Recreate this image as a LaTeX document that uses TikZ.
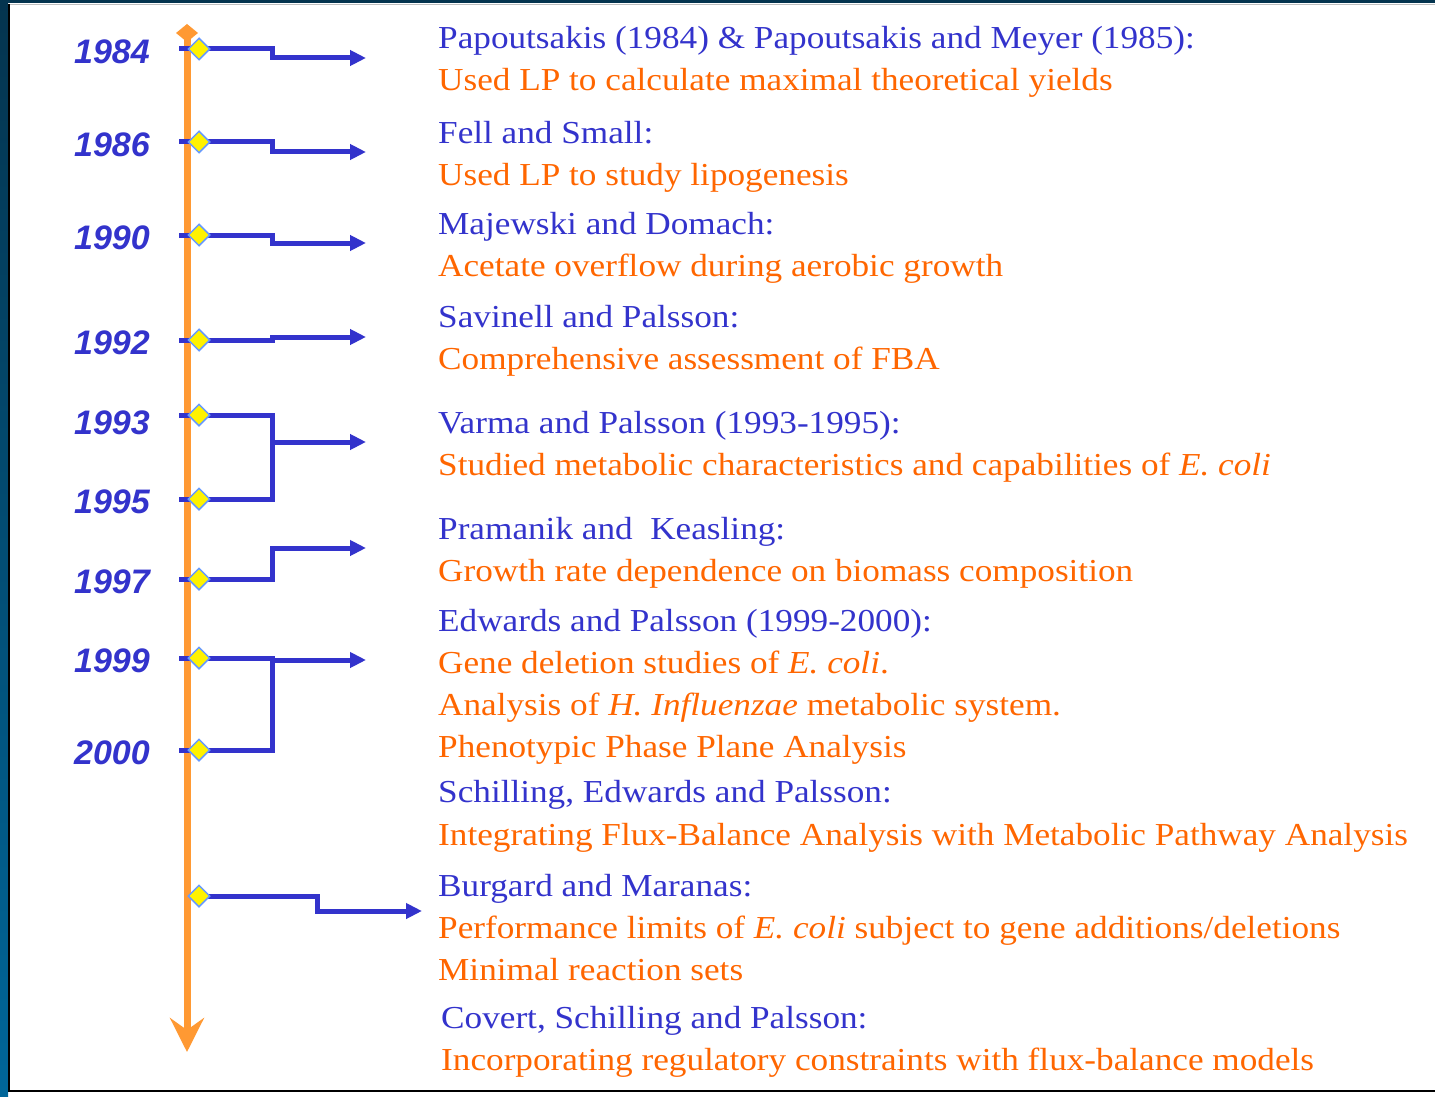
\documentclass[tikz,border=0pt]{standalone}
\usepackage{fontspec}
\setmainfont{Liberation Serif}[FakeStretch=1.1]
\newfontfamily\yearfamily{Liberation Sans}
\usetikzlibrary{arrows.meta,shapes.geometric}

\definecolor{titleblue}{HTML}{3333CC}
\definecolor{noteorange}{HTML}{FF6600}
\definecolor{axisorange}{HTML}{FF9933}
\definecolor{rimblue}{HTML}{6699FF}
\definecolor{framedark}{HTML}{04344F}
\definecolor{framelight}{HTML}{006699}

\def \markSize {22pt}
\def \tipX {366}

\tikzset{
  year/.style={anchor=base east, inner sep=0pt, text=titleblue, font=\yearfamily\bfseries\itshape\fontsize{34}{40}\selectfont},
  who/.style={anchor=base west, inner sep=0pt, text=titleblue, font=\fontsize{32}{38}\selectfont},
  what/.style={anchor=base west, inner sep=0pt, text=noteorange, font=\fontsize{32}{38}\selectfont},
  event/.style={diamond, draw=rimblue, fill=yellow, line width=1.5pt, minimum size=\markSize, inner sep=0pt},
  link/.style={draw=titleblue, line width=5pt},
  linkarrow/.style={link, -{Triangle[length=16pt,width=15pt]}}
}

\begin{document}
\begin{tikzpicture}[x=1pt,y=-1pt]
  \useasboundingbox (0,0) rectangle (1435,1097);

  % frame
  \fill[white] (0,0) rectangle (1435,1097);
  \fill[framedark] (0,0) rectangle (1435,3.5);
  \shade[top color=framedark, bottom color=framelight] (0,0) rectangle (8,1097);
  \draw[black!25, line width=1pt] (9,4.5) -- (1435,4.5);
  \draw[black, line width=2pt] (9,4) -- (9,1091) -- (1435,1091);

  % time axis
  \draw[axisorange, line width=7pt, {Diamond[length=18pt,width=22pt]}-{Stealth[length=34pt,width=34pt,inset=12pt]}] (187,24) -- (187,1052);

  % years
  \foreach \yr/\y in {1984/64, 1986/157, 1990/249, 1992/354, 1993/434, 1995/513, 1997/593, 1999/672, 2000/764}
    \node[year] (y\yr) at (150,\y) {\yr};

  % event points and arrow tips
  \foreach \yr/\y in {1984/49, 1986/142, 1990/235, 1992/340, 1993/415, 1995/499, 1997/579, 1999/658, 2000/750, last/896}
    \coordinate (c\yr) at (199,\y);
  \foreach \yr/\y in {1984/58, 1986/152, 1990/243, 1992/337, 1993/442, 1997/548, 1999/660}
    \coordinate (t\yr) at (\tipX,\y);
  \coordinate (tlast) at (422,911);
  \coordinate (bend) at (272,0);
  \coordinate (bendlast) at (317,0);

  % links
  \foreach \yr in {1984, 1986, 1990, 1992, 1997}
    \draw[linkarrow] ([xshift=-20pt]c\yr) -- (c\yr -| bend) |- (t\yr);
  \draw[link] ([xshift=-20pt]c1993) -| (c1995 -| bend) -- ([xshift=-20pt]c1995);
  \draw[linkarrow] (t1993 -| bend) -- (t1993);
  \draw[link] ([xshift=-20pt]c1999) -| (c2000 -| bend) -- ([xshift=-20pt]c2000);
  \draw[linkarrow] (t1999 -| bend) -- (t1999);
  \draw[linkarrow] (clast) -- (clast -| bendlast) |- (tlast);

  \foreach \yr in {1984, 1986, 1990, 1992, 1993, 1995, 1997, 1999, 2000, last}
    \node[event] (e\yr) at (c\yr) {};

  % entries
  \node[who]  (w1)  at (438,49)   {Papoutsakis (1984) \& Papoutsakis and Meyer (1985):};
  \node[what] (n1)  at (438,91)   {Used LP to calculate maximal theoretical yields};
  \node[who]  (w2)  at (438,143)  {Fell and Small:};
  \node[what] (n2)  at (438,185)  {Used LP to study lipogenesis};
  \node[who]  (w3)  at (438,234)  {Majewski and Domach:};
  \node[what] (n3)  at (438,276)  {Acetate overflow during aerobic growth};
  \node[who]  (w4)  at (438,327)  {Savinell and Palsson:};
  \node[what] (n4)  at (438,369)  {Comprehensive assessment of FBA};
  \node[who]  (w5)  at (438,433)  {Varma and Palsson (1993-1995):};
  \node[what] (n5)  at (438,475)  {Studied metabolic characteristics and capabilities of \textit{E. coli}};
  \node[who]  (w6)  at (438,539)  {Pramanik and\ \ Keasling:};
  \node[what] (n6)  at (438,581)  {Growth rate dependence on biomass composition};
  \node[who]  (w7)  at (438,631)  {Edwards and Palsson (1999-2000):};
  \node[what] (n7a) at (438,673)  {Gene deletion studies of \textit{E. coli}.};
  \node[what] (n7b) at (438,715)  {Analysis of \textit{H. Influenzae} metabolic system.};
  \node[what] (n7c) at (438,757)  {Phenotypic Phase Plane Analysis};
  \node[who]  (w8)  at (438,802)  {Schilling, Edwards and Palsson:};
  \node[what] (n8)  at (438,845)  {Integrating Flux-Balance Analysis with Metabolic Pathway Analysis};
  \node[who]  (w9)  at (438,896)  {Burgard and Maranas:};
  \node[what] (n9a) at (438,938)  {Performance limits of \textit{E. coli} subject to gene additions/deletions};
  \node[what] (n9b) at (438,980)  {Minimal reaction sets};
  \node[who]  (w10) at (441,1028) {Covert, Schilling and Palsson:};
  \node[what] (n10) at (441,1070) {Incorporating regulatory constraints with flux-balance models};
\end{tikzpicture}
\end{document}
